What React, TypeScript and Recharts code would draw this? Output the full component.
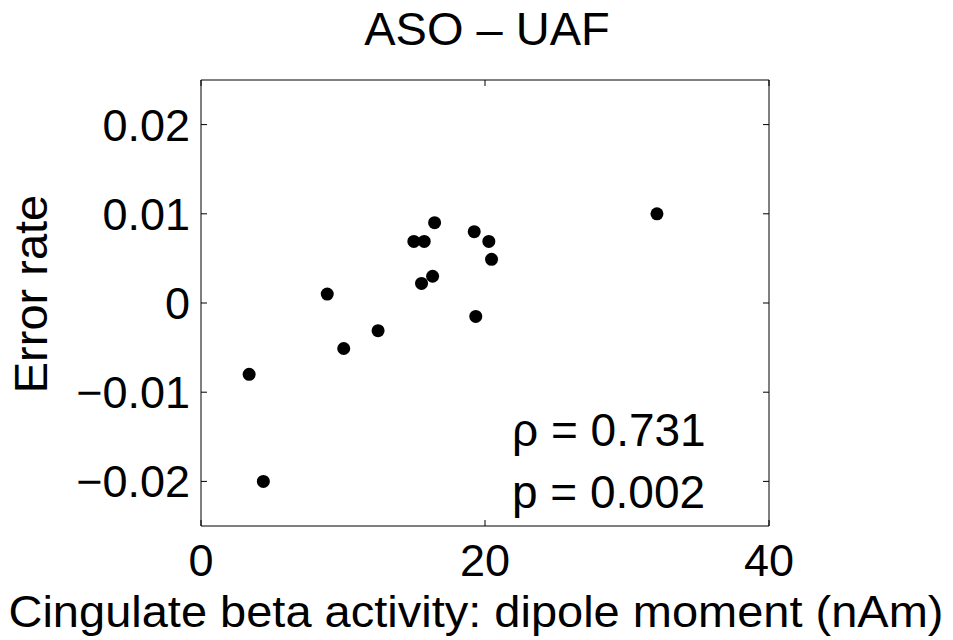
import React from 'react';
import { ScatterChart, Scatter, XAxis, YAxis } from 'recharts';

const W = 953;
const H = 640;
const FONT = '"Liberation Sans", Arial, Helvetica, sans-serif';

// plot box (margins + axis sizes below give this box)
const PLOT_LEFT = 201;
const PLOT_RIGHT = 769;
const PLOT_TOP = 80;
const PLOT_BOTTOM = 526;
const TICK_LEN = 6;

// dipole moment (nAm) vs error rate
const dipoleMoment = [3.39, 4.39, 8.89, 10.05, 12.47, 14.99, 15.72, 16.45, 15.53, 16.31, 19.24, 19.35, 20.27, 20.46, 32.11];
const errorRate = [-0.008, -0.02, 0.001, -0.0051, -0.0031, 0.0069, 0.0069, 0.009, 0.0022, 0.003, 0.008, -0.0015, 0.0069, 0.0049, 0.01];

const xTicks = [0, 20, 40];
const yTicks = [-0.02, -0.01, 0, 0.01, 0.02];

const title = 'ASO – UAF';
const xLabel = 'Cingulate beta activity: dipole moment (nAm)';
const yLabel = 'Error rate';
const statLines = ['ρ = 0.731', 'p = 0.002'];

const LINE = { stroke: '#000', strokeWidth: 1 };

const fmtY = (v: number) => (v === 0 ? '0' : v < 0 ? '−' + Math.abs(v).toFixed(2) : v.toFixed(2));

// matlab-style: label outside, tick marks pointing in on both sides of the box
function XTick(props: any) {
  const { x, payload } = props;
  return (
    <g>
      <line x1={x} x2={x} y1={PLOT_BOTTOM} y2={PLOT_BOTTOM - TICK_LEN} {...LINE} />
      <line x1={x} x2={x} y1={PLOT_TOP} y2={PLOT_TOP + TICK_LEN} {...LINE} />
      <text x={x} y={PLOT_BOTTOM + 50} textAnchor="middle" fontSize={45} fontFamily={FONT} fill="#000">
        {payload.value}
      </text>
    </g>
  );
}

function YTick(props: any) {
  const { y, payload } = props;
  return (
    <g>
      <line x1={PLOT_LEFT} x2={PLOT_LEFT + TICK_LEN} y1={y} y2={y} {...LINE} />
      <line x1={PLOT_RIGHT} x2={PLOT_RIGHT - TICK_LEN} y1={y} y2={y} {...LINE} />
      <text x={PLOT_LEFT - 11} y={y + 16} textAnchor="end" fontSize={45} fontFamily={FONT} fill="#000">
        {fmtY(payload.value)}
      </text>
    </g>
  );
}

const Dot = (props: any) => <circle cx={props.cx} cy={props.cy} r={6.5} fill="#000" />;

export default function App() {
  const data = dipoleMoment.map((x, i) => ({ x, y: errorRate[i] }));

  return (
    <div style={{ position: 'absolute', left: 0, top: 0, width: W, height: H, background: '#fff' }}>
      <ScatterChart width={W} height={H} margin={{ top: PLOT_TOP - 1, right: W - PLOT_RIGHT - 1, bottom: 0, left: 0 }}>
        <XAxis type="number" dataKey="x" domain={[0, 40]} ticks={xTicks} height={H - PLOT_BOTTOM}
          axisLine={LINE} tickLine={false} tickSize={0} tick={<XTick />} interval={0} />
        <YAxis type="number" dataKey="y" domain={[-0.025, 0.025]} ticks={yTicks} width={PLOT_LEFT}
          axisLine={LINE} tickLine={false} tickSize={0} tick={<YTick />} interval={0} />
        {/* top and right sides of the box */}
        <XAxis xAxisId="top" orientation="top" type="number" domain={[0, 40]} ticks={xTicks} height={1}
          axisLine={LINE} tickLine={false} tick={false} />
        <YAxis yAxisId="right" orientation="right" type="number" domain={[-0.025, 0.025]} ticks={yTicks} width={1}
          axisLine={LINE} tickLine={false} tick={false} />
        <Scatter data={data} fill="#000" shape={<Dot />} isAnimationActive={false} />
      </ScatterChart>

      <svg width={W} height={H} style={{ position: 'absolute', left: 0, top: 0, pointerEvents: 'none' }}
        fontFamily={FONT} fill="#000">
        <text x={487} y={45} fontSize={47} textAnchor="middle">{title}</text>
        <text x={476} y={627} fontSize={45} textAnchor="middle" textLength={935} lengthAdjust="spacingAndGlyphs">{xLabel}</text>
        <text transform="translate(47,294) rotate(-90)" fontSize={47} textAnchor="middle">{yLabel}</text>
        <text x={512} y={446} fontSize={46}>{statLines[0]}</text>
        <text x={512} y={508} fontSize={46}>{statLines[1]}</text>
      </svg>
    </div>
  );
}
